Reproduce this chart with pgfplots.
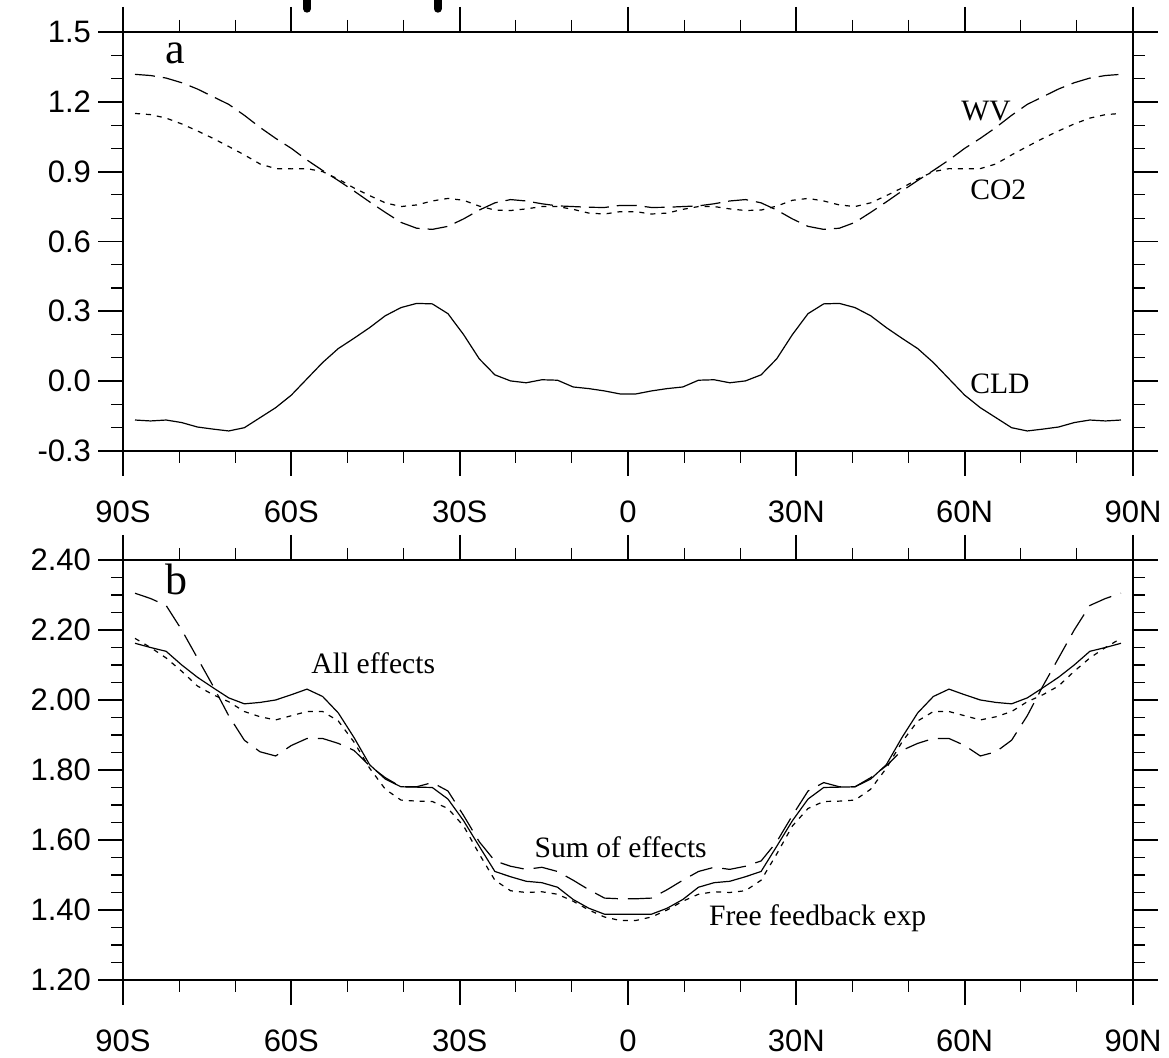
\documentclass[border=0pt]{standalone}
\usepackage{fontspec}
\setmainfont{Liberation Serif}
\newfontfamily\sansf{Liberation Sans}
\usepackage{pgfplots}
\usepackage{pgfplotstable}
\pgfplotsset{compat=1.18}

\pgfplotstableread{
lat wv co2 cld
-87.86 1.318 1.150 -0.167
-85.10 1.313 1.145 -0.171
-82.31 1.302 1.130 -0.167
-79.53 1.282 1.105 -0.178
-76.74 1.255 1.075 -0.197
-73.95 1.222 1.043 -0.206
-71.16 1.189 1.008 -0.214
-68.37 1.142 0.972 -0.200
-65.58 1.090 0.933 -0.157
-62.79 1.043 0.913 -0.114
-60.00 1.000 0.912 -0.060
-57.21 0.950 0.913 0.010
-54.42 0.905 0.900 0.080
-51.63 0.862 0.868 0.140
-48.84 0.817 0.830 0.184
-46.04 0.770 0.797 0.230
-43.25 0.725 0.766 0.281
-40.46 0.682 0.750 0.316
-37.67 0.657 0.757 0.334
-34.88 0.652 0.774 0.332
-32.09 0.665 0.785 0.290
-29.30 0.697 0.777 0.200
-26.51 0.735 0.752 0.096
-23.72 0.766 0.735 0.027
-20.93 0.780 0.733 0.001
-18.14 0.774 0.740 -0.007
-15.35 0.762 0.750 0.006
-12.56 0.753 0.750 0.004
-9.77 0.750 0.738 -0.025
-6.98 0.747 0.722 -0.032
-4.19 0.746 0.718 -0.042
-1.40 0.755 0.728 -0.055
1.40 0.755 0.728 -0.055
4.19 0.746 0.718 -0.042
6.98 0.747 0.722 -0.032
9.77 0.750 0.738 -0.025
12.56 0.753 0.750 0.004
15.35 0.762 0.750 0.006
18.14 0.774 0.740 -0.007
20.93 0.780 0.733 0.001
23.72 0.766 0.735 0.027
26.51 0.735 0.752 0.096
29.30 0.697 0.777 0.200
32.09 0.665 0.785 0.290
34.88 0.652 0.774 0.332
37.67 0.657 0.757 0.334
40.46 0.682 0.750 0.316
43.25 0.725 0.766 0.281
46.04 0.770 0.797 0.230
48.84 0.817 0.830 0.184
51.63 0.862 0.868 0.140
54.42 0.905 0.900 0.080
57.21 0.950 0.913 0.010
60.00 1.000 0.912 -0.060
62.79 1.043 0.913 -0.114
65.58 1.090 0.933 -0.157
68.37 1.142 0.972 -0.200
71.16 1.189 1.008 -0.214
73.95 1.222 1.043 -0.206
76.74 1.255 1.075 -0.197
79.53 1.282 1.105 -0.178
82.31 1.302 1.130 -0.167
85.10 1.313 1.145 -0.171
87.86 1.318 1.150 -0.167
}\tabA

\pgfplotstableread{
lat all sum free
-87.86 2.162 2.305 2.176
-85.10 2.150 2.290 2.150
-82.31 2.139 2.270 2.120
-79.53 2.100 2.200 2.082
-76.74 2.065 2.120 2.040
-73.95 2.035 2.040 2.015
-71.16 2.006 1.955 1.995
-68.37 1.989 1.885 1.967
-65.58 1.993 1.852 1.952
-62.79 2.000 1.840 1.943
-60.00 2.015 1.870 1.955
-57.21 2.031 1.890 1.967
-54.42 2.010 1.890 1.967
-51.63 1.963 1.876 1.940
-48.84 1.893 1.856 1.880
-46.04 1.815 1.812 1.805
-43.25 1.774 1.778 1.745
-40.46 1.752 1.752 1.714
-37.67 1.751 1.752 1.711
-34.88 1.750 1.764 1.710
-32.09 1.717 1.740 1.690
-29.30 1.655 1.670 1.640
-26.51 1.582 1.595 1.560
-23.72 1.510 1.540 1.485
-20.93 1.495 1.525 1.455
-18.14 1.482 1.516 1.450
-15.35 1.478 1.522 1.452
-12.56 1.465 1.510 1.445
-9.77 1.430 1.485 1.425
-6.98 1.405 1.458 1.400
-4.19 1.388 1.434 1.380
-1.40 1.388 1.432 1.370
1.40 1.388 1.432 1.370
4.19 1.388 1.434 1.380
6.98 1.405 1.458 1.400
9.77 1.430 1.485 1.425
12.56 1.465 1.510 1.445
15.35 1.478 1.522 1.452
18.14 1.482 1.516 1.450
20.93 1.495 1.525 1.455
23.72 1.510 1.540 1.485
26.51 1.582 1.595 1.560
29.30 1.655 1.670 1.640
32.09 1.717 1.740 1.690
34.88 1.750 1.764 1.710
37.67 1.751 1.752 1.711
40.46 1.752 1.752 1.714
43.25 1.774 1.778 1.745
46.04 1.815 1.812 1.805
48.84 1.893 1.856 1.880
51.63 1.963 1.876 1.940
54.42 2.010 1.890 1.967
57.21 2.031 1.890 1.967
60.00 2.015 1.870 1.955
62.79 2.000 1.840 1.943
65.58 1.993 1.852 1.952
68.37 1.989 1.885 1.967
71.16 2.006 1.955 1.995
73.95 2.035 2.040 2.015
76.74 2.065 2.120 2.040
79.53 2.100 2.200 2.082
82.31 2.139 2.270 2.120
85.10 2.150 2.290 2.150
87.86 2.162 2.305 2.176
}\tabB

\pgfplotsset{
  myax/.style={
    scale only axis, width=505pt, anchor=south west,
    xmin=-90, xmax=90,
    xtick={-90,-60,-30,0,30,60,90},
    xticklabels={90S,60S,30S,0,30N,60N,90N},
    minor x tick num=2,
    tick align=outside, tick pos=both, ticklabel pos=left,
    major tick length=12.5pt, minor tick length=6pt,
    major tick style={line width=0.9pt, black},
    minor tick style={line width=0.55pt, black},
    axis line style={line width=1.2pt},
    tick label style={font=\sansf\fontsize{15.5}{18}\selectfont},
    xticklabel style={yshift=-9pt},
    clip mode=individual,
  },
}
\tikzset{
  lab/.style={font=\fontsize{14.8}{17}\selectfont, anchor=base, inner sep=0pt},
  plab/.style={font=\fontsize{22}{26}\selectfont, anchor=base, inner sep=0pt},
}

\begin{document}
\begin{tikzpicture}
\useasboundingbox (0,0) rectangle (584.5pt,529pt);
\begin{axis}[myax, at={(61.5pt,303.5pt)}, height=209.5pt,
  ymin=-0.3, ymax=1.5,
  ytick={-0.3,0,0.3,0.6,0.9,1.2,1.5},
  yticklabels={-0.3,0.0,0.3,0.6,0.9,1.2,1.5},
  minor y tick num=2]
\addplot[black, line width=0.6pt, dash pattern=on 10pt off 4pt] table[x=lat,y=wv] {\tabA};
\addplot[black, line width=0.6pt, dash pattern=on 2.5pt off 3pt] table[x=lat,y=co2] {\tabA};
\addplot[black, line width=0.6pt] table[x=lat,y=cld] {\tabA};
\node[plab] at (axis cs:-80.7,1.366) {a};
\node[lab] at (axis cs:63.8,1.118) {WV};
\node[lab] at (axis cs:66.0,0.779) {CO2};
\node[lab] at (axis cs:66.3,-0.052) {CLD};
\draw[line width=4pt, line cap=round] (axis cs:-57.2,1.600) -- (axis cs:-57.2,1.80);
\draw[line width=4pt, line cap=round] (axis cs:-33.9,1.600) -- (axis cs:-33.9,1.80);
\end{axis}
\begin{axis}[myax, at={(61.5pt,39pt)}, height=210pt,
  ymin=1.2, ymax=2.4,
  ytick={1.2,1.4,1.6,1.8,2.0,2.2,2.4},
  yticklabels={1.20,1.40,1.60,1.80,2.00,2.20,2.40},
  minor y tick num=3]
\addplot[black, line width=0.6pt] table[x=lat,y=all] {\tabB};
\addplot[black, line width=0.6pt, dash pattern=on 12pt off 5pt] table[x=lat,y=sum] {\tabB};
\addplot[black, line width=0.6pt, dash pattern=on 2.5pt off 3pt] table[x=lat,y=free] {\tabB};
\node[plab] at (axis cs:-80.4,2.30) {b};
\node[lab] at (axis cs:-45.4,2.076) {All effects};
\node[lab] at (axis cs:-1.3,1.551) {Sum of effects};
\node[lab] at (axis cs:33.8,1.357) {Free feedback exp};
\end{axis}
\end{tikzpicture}
\end{document}
